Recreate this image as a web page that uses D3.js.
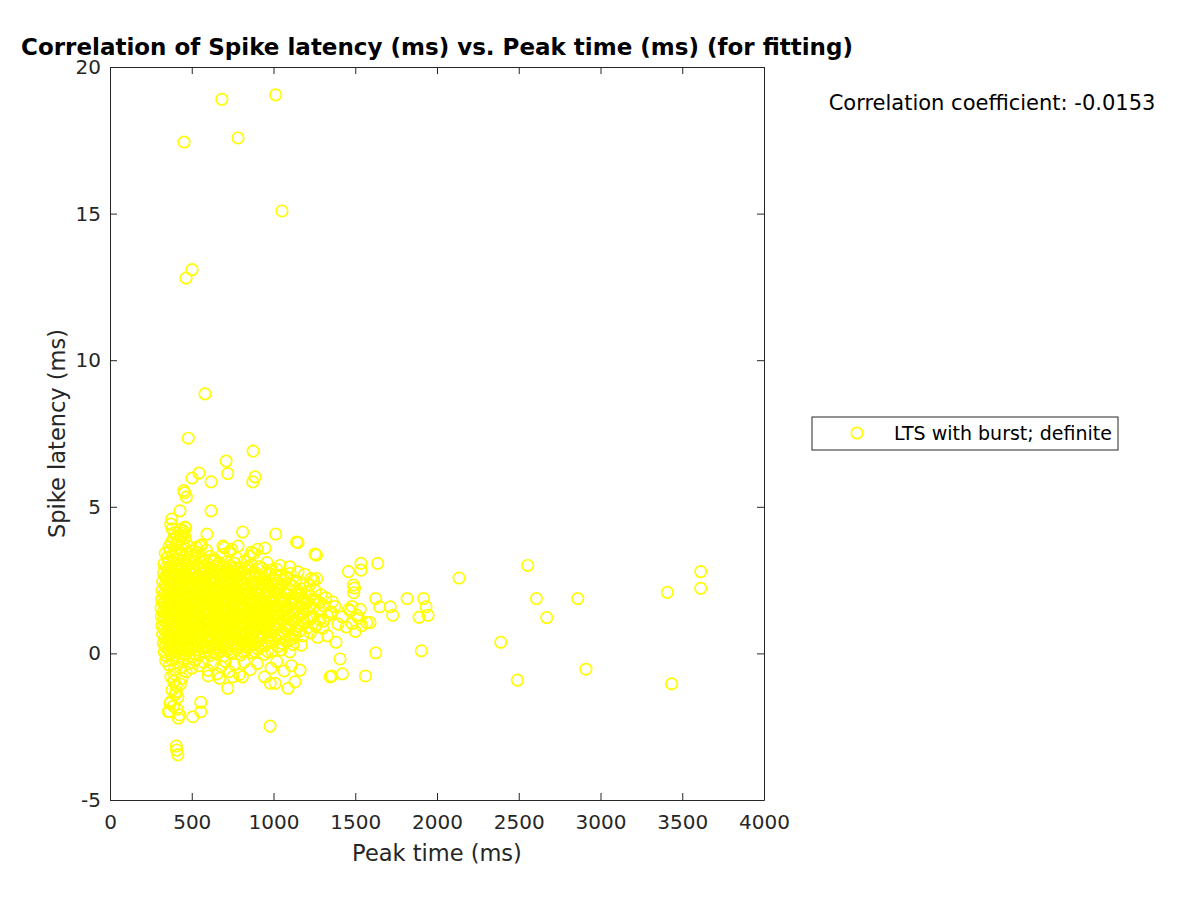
<!DOCTYPE html>
<html>
<head>
<meta charset="utf-8">
<script src="https://cdn.jsdelivr.net/npm/d3@7"></script>
<style>
  body { margin: 0; background: #fff; }
  svg text { font-family: "DejaVu Sans", sans-serif; }
</style>
</head>
<body>
<div id="chart"></div>
<script>
// Peak time (ms), spike latency (ms) pairs
var outlierPoints = [
  [453,17.44],[684,18.9],[1013,19.05],[783,17.58],[1052,15.09],[502,13.09],[465,12.8],[581,8.85],
  [479,7.34],[875,6.9],[710,6.56],[720,6.13],[544,6.15],[502,5.98],[887,6.02],[873,5.85],[618,5.85],
  [451,5.55],[457,5.48],[467,5.33],[618,4.86],[428,4.86],[377,4.58],[811,4.14],[1013,4.07],[593,4.07],
  [1141,3.8],[1150,3.78],[948,3.59],[1254,3.39],[459,4.31],[440,4.1],[432,3.98],[446,4.02],
  [783,3.66],[691,3.66],[550,3.66],[865,3.45],[878,3.4]
];

var rightPoints = [
  [1535,3.07],[1637,3.07],[1458,2.79],[1535,2.84],[2135,2.57],[2555,3.0],[3613,2.79],[3613,2.22],
  [3409,2.08],[2608,1.87],[2861,1.87],[2671,1.22],[2390,0.38],[2492,-0.91],[2911,-0.54],[3435,-1.04],
  [1488,2.33],[1495,2.23],[1490,2.07],[1625,1.87],[1649,1.59],[1714,1.59],[1729,1.3],[1817,1.87],
  [1918,1.87],[1933,1.59],[1945,1.3],[1890,1.23],[1904,0.09],[1625,0.02],[1407,-0.19],[1382,0.38],
  [1421,-0.7],[1562,-0.77],[1356,-0.77],[1346,-0.8],[1470,1.45],[1520,1.2],[1590,1.05],[1480,1.6],
  [1480,1.02],[1500,0.75],[1530,1.5],[1360,1.76],[1352,1.42],
  [1200,1.7],[1230,1.2],[1260,0.95],[1285,1.5],[1305,1.1],[1330,0.6],[1350,1.35],[1375,1.6],
  [1395,1.0],[1420,1.25],[1445,0.9],[1460,1.5],[1510,1.3],[1540,0.95],[1570,1.05],
  [1100,2.95],[1040,3.0],[1080,2.55],[1190,2.7],[1265,2.55],[1262,3.35]
];

var lowPoints = [
  [340,-0.25],[362,-0.4],[378,-0.22],[395,-0.55],[412,-0.3],[430,-0.48],[448,-0.2],[465,-0.62],
  [482,-0.35],[500,-0.5],[520,-0.24],[545,-0.42],[572,-0.3],[600,-0.58],[628,-0.35],[655,-0.7],
  [680,-0.45],[705,-0.28],[730,-0.62],[760,-0.38],[790,-0.72],[820,-0.3],[858,-0.55],[900,-0.35],
  [945,-0.8],[985,-0.5],[1020,-0.28],[1065,-0.6],[1110,-0.42],
  [372,-0.8],[390,-0.95],[405,-1.1],[380,-1.25],[398,-1.4],[415,-1.5],[372,-1.65],[388,-1.8],
  [410,-1.9],[362,-1.98],[425,-2.1],[405,-1.3],[430,-1.05],[440,-0.85],[395,-0.7],
  [555,-1.67],[555,-1.99],[506,-2.16],[418,-2.21],[357,-1.99],[367,-1.7],[720,-1.19],[600,-0.77],
  [1089,-1.19],[1131,-0.97],[980,-1.02],[1010,-1.02],[750,-0.8],[810,-0.8],[670,-0.85],[1162,-0.57],
  [979,-2.48],[405,-3.16],[408,-3.3],[415,-3.46]
];

var corePoints = [
  [338,3.42],[352,3.28],[367,3.51],[381,3.33],[396,3.46],[409,3.21],[423,3.38],[441,3.55],[455,3.27],
  [470,3.41],[488,3.18],[503,3.49],[521,3.3],[540,3.44],[566,3.23],[589,3.52],[612,3.31],[640,3.2],
  [688,3.37],[731,3.48],[776,3.25],[856,3.31],[902,3.55],
  [360,3.63],[374,3.78],[388,3.92],[402,3.69],[418,3.85],[432,4.02],[447,3.74],[461,3.95],[478,3.66],
  [395,4.12],[380,4.25],[430,4.22],[448,4.18],[462,4.27],[372,4.41],[406,3.99],[528,3.62],[560,3.7],
  [700,3.6],[745,3.55],
  [330,3.05],[344,2.93],[358,3.14],[371,2.98],[385,3.09],[399,2.91],[414,3.17],[428,3.02],[443,2.95],
  [457,3.12],[472,2.99],[486,3.08],[501,2.92],[516,3.15],[532,3.01],[548,2.94],[563,3.11],[579,2.97],
  [596,3.06],[614,2.9],[632,3.13],[651,2.98],[669,3.08],[690,2.93],[712,3.12],[735,2.99],[760,3.07],
  [790,2.92],[822,3.15],[866,3.02],[915,2.96],[960,3.1],
  [326,2.75],[339,2.62],[352,2.84],[366,2.69],[379,2.8],[393,2.64],[407,2.87],[421,2.71],[435,2.82],
  [449,2.66],[463,2.78],[477,2.61],[491,2.85],[506,2.7],[520,2.79],[535,2.63],[550,2.86],[565,2.72],
  [580,2.81],[596,2.65],[612,2.77],[628,2.6],[645,2.83],[662,2.68],[680,2.79],[698,2.63],[717,2.85],
  [737,2.7],[758,2.8],[780,2.64],[803,2.76],[828,2.88],[854,2.67],[880,2.79],[912,2.62],[948,2.74],
  [990,2.85],[1040,2.66],[1102,2.73],[1150,2.78],[1230,2.55],[1245,2.5],
  [322,2.45],[335,2.32],[348,2.55],[362,2.39],[375,2.51],[389,2.34],[403,2.57],[417,2.41],[431,2.53],
  [445,2.36],[459,2.49],[473,2.31],[487,2.56],[502,2.4],[516,2.52],[531,2.35],[546,2.58],[561,2.43],
  [576,2.5],[592,2.33],[608,2.55],[624,2.38],[641,2.48],[658,2.31],[675,2.54],[693,2.4],[711,2.52],
  [730,2.35],[750,2.47],[770,2.58],[791,2.42],[813,2.32],[836,2.53],[860,2.4],[884,2.56],[910,2.37],
  [936,2.49],[965,2.33],[995,2.55],[1028,2.41],[1062,2.52],[1098,2.36],[1135,2.47],[1180,2.4],[1222,2.34],
  [318,2.15],[331,2.02],[344,2.25],[358,2.09],[371,2.21],[385,2.04],[399,2.27],[413,2.11],[427,2.23],
  [441,2.06],[455,2.19],[469,2.01],[483,2.26],[498,2.1],[512,2.22],[527,2.05],[542,2.28],[557,2.13],
  [572,2.2],[588,2.03],[604,2.25],[620,2.08],[637,2.18],[654,2.01],[671,2.24],[689,2.1],[707,2.22],
  [726,2.05],[745,2.17],[765,2.28],[786,2.12],[807,2.02],[829,2.23],[852,2.1],[876,2.26],[900,2.07],
  [925,2.19],[951,2.03],[978,2.25],[1006,2.11],[1036,2.22],[1067,2.06],[1100,2.18],[1134,2.02],
  [1170,2.2],[1210,2.08],[1255,2.14],[1290,2.0],
  [316,1.85],[329,1.72],[342,1.95],[356,1.79],[369,1.91],[383,1.74],[397,1.97],[411,1.81],[425,1.93],
  [439,1.76],[453,1.89],[467,1.71],[481,1.96],[496,1.8],[510,1.92],[525,1.75],[540,1.98],[555,1.83],
  [570,1.9],[586,1.73],[602,1.95],[618,1.78],[635,1.88],[652,1.71],[669,1.94],[687,1.8],[705,1.92],
  [724,1.75],[743,1.87],[763,1.98],[784,1.82],[805,1.72],[827,1.93],[850,1.8],[874,1.96],[898,1.77],
  [923,1.89],[949,1.73],[976,1.95],[1004,1.81],[1034,1.92],[1065,1.76],[1098,1.88],[1132,1.72],
  [1168,1.9],[1205,1.78],[1245,1.85],[1280,1.74],[1320,1.9],
  [312,1.55],[325,1.42],[338,1.65],[352,1.49],[365,1.61],[379,1.44],[393,1.67],[407,1.51],[421,1.63],
  [435,1.46],[449,1.59],[463,1.41],[477,1.66],[492,1.5],[506,1.62],[521,1.45],[536,1.68],[551,1.53],
  [566,1.6],[582,1.43],[598,1.65],[614,1.48],[631,1.58],[648,1.41],[665,1.64],[683,1.5],[701,1.62],
  [720,1.45],[739,1.57],[759,1.68],[780,1.52],[801,1.42],[823,1.63],[846,1.5],[870,1.66],[894,1.47],
  [919,1.59],[945,1.43],[972,1.65],[1000,1.51],[1030,1.62],[1061,1.46],[1094,1.58],[1128,1.42],
  [1164,1.6],[1201,1.48],[1240,1.55],[1275,1.44],[1310,1.62],
  [314,1.25],[327,1.12],[340,1.35],[354,1.19],[367,1.31],[381,1.14],[395,1.37],[409,1.21],[423,1.33],
  [437,1.16],[451,1.29],[465,1.11],[479,1.36],[494,1.2],[508,1.32],[523,1.15],[538,1.38],[553,1.23],
  [568,1.3],[584,1.13],[600,1.35],[616,1.18],[633,1.28],[650,1.11],[667,1.34],[685,1.2],[703,1.32],
  [722,1.15],[741,1.27],[761,1.38],[782,1.22],[803,1.12],[825,1.33],[848,1.2],[872,1.36],[896,1.17],
  [921,1.29],[947,1.13],[974,1.35],[1002,1.21],[1032,1.32],[1063,1.16],[1096,1.28],[1130,1.12],
  [1166,1.3],[1203,1.18],[1242,1.25],[1282,1.14],[1330,1.28],
  [318,0.95],[331,0.82],[344,1.05],[358,0.89],[371,1.01],[385,0.84],[399,1.07],[413,0.91],[427,1.03],
  [441,0.86],[455,0.99],[469,0.81],[483,1.06],[498,0.9],[512,1.02],[527,0.85],[542,1.08],[557,0.93],
  [572,1.0],[588,0.83],[604,1.05],[620,0.88],[637,0.98],[654,0.81],[671,1.04],[689,0.9],[707,1.02],
  [726,0.85],[745,0.97],[765,1.08],[786,0.92],[807,0.82],[829,1.03],[852,0.9],[876,1.06],[900,0.87],
  [925,0.99],[951,0.83],[978,1.05],[1006,0.91],[1036,1.02],[1067,0.86],[1100,0.98],[1134,0.82],
  [1170,1.0],[1210,0.88],[1255,0.95],[1300,0.85],
  [322,0.65],[335,0.52],[348,0.75],[362,0.59],[375,0.71],[389,0.54],[403,0.77],[417,0.61],[431,0.73],
  [445,0.56],[459,0.69],[473,0.51],[487,0.76],[502,0.6],[516,0.72],[531,0.55],[546,0.78],[561,0.63],
  [576,0.7],[592,0.53],[608,0.75],[624,0.58],[641,0.68],[658,0.51],[675,0.74],[693,0.6],[711,0.72],
  [730,0.55],[750,0.67],[770,0.78],[791,0.62],[813,0.52],[836,0.73],[860,0.6],[884,0.76],[910,0.57],
  [936,0.69],[965,0.53],[995,0.75],[1028,0.61],[1062,0.72],[1098,0.56],[1135,0.67],[1180,0.6],
  [1225,0.7],[1270,0.55],
  [326,0.35],[339,0.22],[352,0.45],[366,0.29],[379,0.41],[393,0.24],[407,0.47],[421,0.31],[435,0.43],
  [449,0.26],[463,0.39],[477,0.21],[491,0.46],[506,0.3],[520,0.42],[535,0.25],[550,0.48],[565,0.33],
  [580,0.4],[596,0.23],[612,0.45],[628,0.28],[645,0.38],[662,0.21],[680,0.44],[698,0.3],[717,0.42],
  [737,0.25],[758,0.37],[780,0.48],[803,0.32],[828,0.22],[854,0.43],[880,0.3],[912,0.46],[948,0.27],
  [990,0.39],[1030,0.24],[1075,0.41],[1120,0.3],[1170,0.28],
  [332,0.05],[345,-0.08],[358,0.15],[372,-0.01],[386,0.11],[400,-0.06],[414,0.17],[428,0.01],[442,0.13],
  [456,-0.04],[470,0.09],[485,-0.09],[500,0.16],[515,0.0],[530,0.12],[546,-0.05],[562,0.18],[578,0.03],
  [595,0.1],[612,-0.07],[630,0.15],[650,-0.02],[672,0.08],[695,-0.09],[720,0.12],[745,0.0],[772,0.14],
  [800,-0.05],[832,0.1],[866,0.02],[905,0.15],[945,-0.03],[990,0.08],[1045,0.12],[1100,0.05]
];

// extra points in the middle of the cloud, where the reference is solid
var fillPoints = [
  [575,2.9],[620,2.72],[665,2.93],[706,2.74],[748,2.91],[795,2.73],[840,2.95],[895,2.7],[930,2.9],
  [975,2.72],[1020,2.86],
  [583,2.62],[632,2.44],[683,2.66],[721,2.45],[760,2.68],[802,2.5],[846,2.66],[872,2.44],[922,2.62],
  [950,2.44],[1012,2.66],[1080,2.6],[1045,2.3],[1115,2.3],
  [596,2.33],[646,2.12],[697,2.35],[735,2.15],[775,2.36],[818,2.2],[864,2.35],[888,2.15],[938,2.33],
  [964,2.14],[992,2.35],[1020,2.16],[1052,2.36],[1084,2.12],[1117,2.3],[1152,2.12],
  [594,2.0],[643,1.84],[678,2.04],[714,1.85],[753,2.04],[794,1.9],[838,2.05],[862,1.86],[910,2.02],
  [936,1.82],[962,2.04],[990,1.86],[1019,2.04],[1050,1.85],[1081,2.03],[1115,1.82],[1150,2.0],
  [1186,1.86],[1225,1.95],
  [590,1.7],[640,1.52],[674,1.74],[710,1.55],[749,1.72],[790,1.6],[812,1.53],[834,1.74],[858,1.57],
  [882,1.75],[906,1.55],[932,1.72],[958,1.52],[986,1.74],[1015,1.57],[1046,1.72],[1078,1.53],
  [1111,1.7],[1146,1.52],[1183,1.68],[1220,1.56],
  [592,1.4],[641,1.24],[676,1.44],[712,1.25],[751,1.42],[792,1.3],[814,1.24],[836,1.44],[860,1.28],
  [884,1.46],[908,1.24],[934,1.4],[960,1.22],[988,1.44],[1017,1.28],[1048,1.42],[1080,1.24],
  [1113,1.4],[1148,1.22],[1185,1.38],[1222,1.26],
  [596,1.12],[645,0.94],[680,1.14],[716,0.95],[755,1.12],[796,1.0],[818,0.94],[840,1.14],[864,0.97],
  [888,1.16],[912,0.96],[938,1.12],[964,0.93],[992,1.14],[1020,0.98],[1050,1.12],[1083,0.94],
  [1117,1.1],[1152,0.92],[1190,1.05],
  [600,0.82],[650,0.64],[684,0.85],[720,0.65],[760,0.84],[802,0.7],[824,0.62],[848,0.84],[872,0.68],
  [897,0.86],[923,0.64],[950,0.8],[980,0.62],[1012,0.84],[1045,0.68],[1080,0.82],[1116,0.63],[1158,0.76],
  [604,0.52],[654,0.34],[689,0.55],[727,0.36],[768,0.54],[815,0.4],[840,0.32],[866,0.52],[896,0.38],
  [930,0.54],[968,0.36],[1010,0.5],[1052,0.34],[1098,0.46],
  [590,0.2],[640,0.05],[684,0.22],[732,0.04],[785,0.22],[815,0.05],[848,0.22],[885,0.07],[925,0.24],
  [965,0.06]
];

var xTicks = [0, 500, 1000, 1500, 2000, 2500, 3000, 3500, 4000];
var yTicks = [-5, 0, 5, 10, 15, 20];

var titleText = "Correlation of Spike latency (ms) vs. Peak time (ms) (for fitting)";
var xLabel = "Peak time (ms)";
var yLabel = "Spike latency (ms)";
var corrText = "Correlation coefficient: -0.0153";
var legendLabel = "LTS with burst; definite";

var svgWidth = 1200;
var svgHeight = 900;

var margin = { top: 67, bottom: 100, left: 110, right: 436 };
var width = svgWidth - margin.left - margin.right;
var height = svgHeight - margin.top - margin.bottom;

var axisColor = "#262626";
var markerColor = "#ffff00";

var svg = d3.select("#chart")
    .append("svg")
    .attr("width", svgWidth)
    .attr("height", svgHeight);

var chartGroup = svg.append("g")
    .attr("transform", `translate(${margin.left}, ${margin.top})`);

var xScale = d3.scaleLinear().domain([0, 4000]).range([0, width]);
var yScale = d3.scaleLinear().domain([-5, 20]).range([height, 0]);

// points, clipped to the axes box
chartGroup.append("clipPath").attr("id", "clip")
    .append("rect").attr("width", width).attr("height", height);

var allPoints = corePoints.concat(fillPoints, lowPoints, rightPoints, outlierPoints);

chartGroup.append("g")
    .attr("clip-path", "url(#clip)")
    .selectAll("circle")
    .data(allPoints)
    .enter()
    .append("circle")
    .attr("cx", d => xScale(d[0]))
    .attr("cy", d => yScale(d[1]))
    .attr("r", 5.7)
    .attr("fill", "none")
    .attr("stroke", markerColor)
    .attr("stroke-width", 1.7);

// axes, ticks point inwards on all four sides
function styleAxis(g) {
    g.attr("font-family", "DejaVu Sans, sans-serif").attr("font-size", 20);
    g.select(".domain").attr("stroke", axisColor).attr("stroke-width", 1);
    g.selectAll(".tick line").attr("stroke", axisColor);
    g.selectAll(".tick text").attr("fill", axisColor);
}

var plainFormat = d => String(d);

chartGroup.append("g")
    .attr("transform", `translate(0, ${height})`)
    .call(d3.axisBottom(xScale).tickValues(xTicks).tickFormat(plainFormat)
        .tickSize(-7).tickSizeOuter(0).tickPadding(15))
    .call(styleAxis);

chartGroup.append("g")
    .call(d3.axisLeft(yScale).tickValues(yTicks).tickFormat(plainFormat)
        .tickSize(-7).tickSizeOuter(0).tickPadding(9))
    .call(styleAxis);

chartGroup.append("g")
    .call(d3.axisTop(xScale).tickValues(xTicks).tickSize(-7).tickSizeOuter(0).tickFormat(""))
    .call(styleAxis);

chartGroup.append("g")
    .attr("transform", `translate(${width}, 0)`)
    .call(d3.axisRight(yScale).tickValues(yTicks).tickSize(-7).tickSizeOuter(0).tickFormat(""))
    .call(styleAxis);

// titles
svg.append("text")
    .attr("x", margin.left + width / 2)
    .attr("y", 55)
    .attr("text-anchor", "middle")
    .attr("font-size", "23px")
    .attr("font-weight", "bold")
    .attr("fill", "#000")
    .text(titleText);

svg.append("text")
    .attr("x", margin.left + width / 2)
    .attr("y", 861)
    .attr("text-anchor", "middle")
    .attr("font-size", "22.5px")
    .attr("fill", axisColor)
    .text(xLabel);

svg.append("text")
    .attr("transform", `translate(65, ${margin.top + height / 2}) rotate(-90)`)
    .attr("text-anchor", "middle")
    .attr("font-size", "22.5px")
    .attr("fill", axisColor)
    .text(yLabel);

svg.append("text")
    .attr("x", 992)
    .attr("y", 110)
    .attr("text-anchor", "middle")
    .attr("font-size", "21px")
    .attr("fill", "#000")
    .text(corrText);

// legend
var legend = svg.append("g").attr("transform", "translate(812, 417)");
legend.append("rect")
    .attr("width", 306).attr("height", 33)
    .attr("fill", "#fff").attr("stroke", axisColor).attr("stroke-width", 1);
legend.append("circle")
    .attr("cx", 45).attr("cy", 16)
    .attr("r", 5.7).attr("fill", "none")
    .attr("stroke", markerColor).attr("stroke-width", 1.7);
legend.append("text")
    .attr("x", 82).attr("y", 23)
    .attr("font-size", "19px")
    .attr("fill", "#000")
    .text(legendLabel);
</script>
</body>
</html>
